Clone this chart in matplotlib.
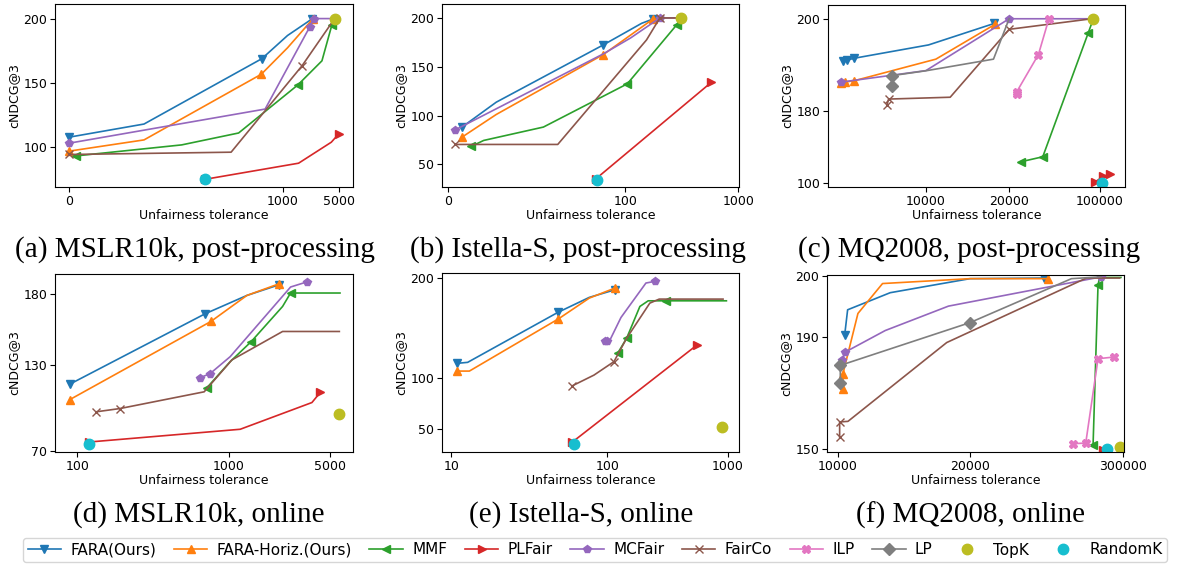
import numpy as np
import matplotlib
matplotlib.use("Agg")
import matplotlib.pyplot as plt

# ---- data ---------------------------------------------------------------
methods = ["FARA(Ours)", "FARA-Horiz.(Ours)", "MMF", "PLFair", "MCFair",
           "FairCo", "ILP", "LP", "TopK", "RandomK"]

# (a) MSLR10k, post-processing
mslr_post = {
    "FARA(Ours)": ([0, 351, 902, 1335, 3084], [107.3, 117.6, 168.7, 186.8, 199.7]),
    "FARA-Horiz.(Ours)": ([0, 351, 899, 1335, 3130], [96.4, 105.2, 156.5, 177.2, 199.5]),
    "MMF": ([33, 527, 793, 2078, 3802, 4521, 4713], [92.7, 101.3, 110.6, 148.2, 167, 195.3, 200]),
    "PLFair": ([636, 2126, 4473, 5000], [74.4, 87.0, 103.4, 109.8]),
    "MCFair": ([0, 917, 2916, 3203, 4713], [102.6, 129.3, 193.3, 200, 200]),
    "FairCo": ([0, 758, 2365, 4713], [93.8, 95.6, 163, 200]),
    "TopK": ([4713], [200]),
    "RandomK": ([636], [74.4]),
}
# (b) Istella-S, post-processing
istella_post = {
    "FARA(Ours)": ([7.9, 27.2, 87.6, 230, 322], [88.2, 113.7, 172.4, 194.5, 199.0]),
    "FARA-Horiz.(Ours)": ([7.9, 27.2, 87.6, 322], [77.9, 101.1, 162.5, 199.0]),
    "MMF": ([13.1, 20.1, 53.8, 116, 508, 542], [68.4, 74.5, 88.2, 132.5, 192.8, 200]),
    "PLFair": ([83.5, 786], [35.3, 134.2]),
    "MCFair": ([4.1, 87.6, 142, 375, 542], [85.4, 163.2, 179.5, 200, 200]),
    "FairCo": ([4.1, 61.9, 269, 375, 542], [70.4, 70.4, 177.5, 200, 200]),
    "TopK": ([542], [200]),
    "RandomK": ([84.2], [34.3]),
}
# (c) MQ2008, post-processing
mq_post = {
    "FARA(Ours)": ([350, 778, 1634, 10320, 18240], [190.8, 191.0, 191.4, 194.3, 199.0]),
    "FARA-Horiz.(Ours)": ([117, 505, 1634, 11200, 18320], [186.1, 186.2, 186.5, 191.2, 198.8]),
    "MMF": ([30260, 49600, 89750, 94140], [123.7, 129.2, 197.0, 200]),
    "PLFair": ([95600, 102930, 108790], [101.5, 107.7, 110.2]),
    "MCFair": ([117, 10000, 20000, 92700], [186.2, 188.7, 200, 200]),
    "FairCo": ([5447, 5642, 12920, 20000, 92700], [181.2, 182.5, 182.9, 197.7, 200]),
    "ILP": ([26740, 26740, 45780, 55000], [183.6, 184.1, 192.2, 200]),
    "LP": ([6030, 6030, 10120, 18120, 20000], [185.4, 187.6, 188.7, 191.2, 200]),
    "TopK": ([93550], [200]),
    "RandomK": ([101470], [100.4]),
}
# (d) MSLR10k, online
mslr_online = {
    "FARA(Ours)": ([56, 861, 1721, 2993], [116.8, 166.0, 178.8, 186.3]),
    "FARA-Horiz.(Ours)": ([56, 895, 1721, 2993], [106.0, 160.6, 178.8, 187.0]),
    "MMF": ([871, 1066, 1891, 3124, 3438, 5380], [114.2, 132.5, 146.5, 171.1, 180.5, 180.5]),
    "PLFair": ([172, 1459, 4277, 4605], [76.3, 85.2, 103.9, 111.0]),
    "MCFair": ([831, 890, 1066, 3438, 4068], [121.3, 124.1, 136.0, 184.7, 188.2]),
    "FairCo": ([211, 354, 855, 1131, 3124, 5354], [97.4, 99.7, 111.4, 133.7, 153.6, 153.6]),
    "TopK": ([5328], [96.2]),
    "RandomK": ([172], [75.2]),
}
# (e) Istella-S, online
istella_online = {
    "FARA(Ours)": ([13.3, 19.4, 71.4, 89.6, 157], [115, 116, 165.7, 180.7, 188.3]),
    "FARA-Horiz.(Ours)": ([13.3, 20.4, 71.8, 89.6, 157], [107.3, 107.3, 159.3, 180, 190]),
    "MMF": ([177, 244, 343, 405, 537, 988], [125, 140, 171.7, 177.3, 177.3, 177.3]),
    "PLFair": ([79.9, 769], [36.7, 133.3]),
    "MCFair": ([98.5, 101, 120, 202, 388, 455], [137.7, 137.7, 138.3, 160.7, 195, 196.7]),
    "FairCo": ([79.9, 92.3, 149.6, 244, 417, 487, 963], [92.7, 103.3, 116.7, 140, 175, 179, 179]),
    "TopK": ([955], [51.7]),
    "RandomK": ([81], [35]),
}
# (f) MQ2008, online
mq_online = {
    "FARA(Ours)": ([10528, 10754, 13970, 20000, 155700], [190.3, 194.5, 197.3, 199.6, 199.7]),
    "FARA-Horiz.(Ours)": ([10402, 10402, 11533, 13392, 20000, 163000], [171.6, 176.9, 193.9, 198.8, 199.6, 199.6]),
    "MMF": ([245200, 254300, 257300, 296200], [151.2, 198.6, 199.8, 199.8]),
    "PLFair": ([263500, 272600], [149.6, 149.9]),
    "MCFair": ([10352, 10578, 13594, 18370, 260400], [181.7, 184.7, 191.1, 195.1, 199.9]),
    "FairCo": ([10151, 10151, 10779, 18240, 233000, 293900], [154.2, 159.6, 159.8, 188.1, 199.7, 199.7]),
    "ILP": ([208700, 231800, 254300, 283500], [151.8, 152.0, 182.3, 182.9]),
    "LP": ([10201, 10201, 10452, 20000, 205700, 260400], [173.5, 179.9, 180.3, 192.4, 199.6, 199.9]),
    "TopK": ([295000], [150.6]),
    "RandomK": ([270000], [150.0]),
}

xticks = [[0, 1000, 5000], [0, 100, 1000], [10000, 20000, 100000],
          [100, 1000, 5000], [10, 100, 1000], [10000, 20000, 300000]]
yticks = [[100, 150, 200], [50, 100, 150, 200], [100, 180, 200],
          [70, 130, 180], [50, 100, 200], [150, 190, 200]]
captions = ["(a) MSLR10k, post-processing", "(b) Istella-S, post-processing",
            "(c) MQ2008, post-processing", "(d) MSLR10k, online",
            "(e) Istella-S, online", "(f) MQ2008, online"]
panels = [mslr_post, istella_post, mq_post, mslr_online, istella_online, mq_online]

# which points of each line carry a marker
mark_idx = [
    {"FARA(Ours)": [0, 2, 4], "FARA-Horiz.(Ours)": [0, 2, 4], "MMF": [0, 3, 5],
     "PLFair": [0, 3], "MCFair": [0, 2, 3], "FairCo": [0, 2]},
    {"FARA(Ours)": [0, 2, 4], "FARA-Horiz.(Ours)": [0, 2, 3], "MMF": [0, 3, 4],
     "PLFair": [0, 1], "MCFair": [0, 3], "FairCo": [0, 3]},
    {"FARA(Ours)": [0, 1, 2, 4], "FARA-Horiz.(Ours)": [0, 1, 2, 4], "MMF": [0, 1, 2],
     "PLFair": [0, 1, 2], "MCFair": [0, 2], "FairCo": [0, 1, 3], "ILP": [0, 1, 2, 3],
     "LP": [0, 1]},
    {"FARA(Ours)": [0, 1, 3], "FARA-Horiz.(Ours)": [0, 1, 3], "MMF": [0, 2, 4],
     "PLFair": [0, 3], "MCFair": [0, 1, 4], "FairCo": [0, 1]},
    {"FARA(Ours)": [0, 2, 4], "FARA-Horiz.(Ours)": [0, 2, 4], "MMF": [0, 1, 4],
     "PLFair": [0, 1], "MCFair": [0, 1, 5], "FairCo": [0, 2]},
    {"FARA(Ours)": [0, 4], "FARA-Horiz.(Ours)": [0, 1, 5], "MMF": [0, 1],
     "PLFair": [0, 1], "MCFair": [0, 1, 4], "FairCo": [0, 1], "ILP": [0, 1, 2, 3],
     "LP": [0, 1, 3]},
]

# ---- layout / style ------------------------------------------------------
W, H = 1178, 565
colors = ["#1f77b4", "#ff7f0e", "#2ca02c", "#d62728", "#9467bd",
          "#8c564b", "#e377c2", "#7f7f7f", "#bcbd22", "#17becf"]
markers = ["v", "^", "<", ">", "p", "x", "X", "D", "o", "o"]

# axes boxes in pixels: left, right, top, bottom
boxes = [(55, 353, 4, 187), (442, 739, 4, 187), (828, 1125, 5, 187),
         (55, 353, 274, 452), (442, 739, 273, 452), (827, 1124, 275, 452)]
# the axes are squashed piecewise: tick value -> relative position
x_knots = [([0, 1000, 5000], [207, 848, 1015]),
           ([0, 100, 1000], [173, 706, 1046]),
           ([0, 10000, 20000, 100000], [180, 437, 687, 960]),
           ([100, 1000, 5000], [232, 685, 990]),
           ([10, 100, 1000], [183, 652, 1015]),
           ([10000, 20000, 300000], [172, 570, 1030])]
y_knots = [None, None, ([100, 180, 200], [-551, -332, -56]),
           None, None, ([150, 190, 200], [-550, -216, -33])]
xlims = [(-65, 6030), (-3.4, 1005), (-1440, 121980), (-33, 5891), (4.6, 1082), (9196, 301830)]
ylims = [(68.4, 211.4), (26.8, 214.3), (96, 203), (69.3, 193.8), (26.7, 205), (148.8, 200.2)]
cap_pos = [(195, 250), (578, 250), (969, 250), (199, 515), (581, 515), (970, 515)]


def piecewise(v, a, b):
    v = np.asarray(v, float)
    out = np.interp(v, a, b)
    lo = (b[1] - b[0]) / (a[1] - a[0])
    hi = (b[-1] - b[-2]) / (a[-1] - a[-2])
    out = np.where(v < a[0], b[0] + (v - a[0]) * lo, out)
    out = np.where(v > a[-1], b[-1] + (v - a[-1]) * hi, out)
    return out


def make_funcs(knots):
    a = np.asarray(knots[0], float)
    b = np.asarray(knots[1], float)
    return (lambda v: piecewise(v, a, b)), (lambda p: piecewise(p, b, a))


fig = plt.figure(figsize=(W / 100, H / 100), dpi=100)
handles = {}

for i, data in enumerate(panels):
    l, r, t, b = boxes[i]
    ax = fig.add_axes([l / W, 1 - b / H, (r - l) / W, (b - t) / H])
    ax.set_xscale("function", functions=make_funcs(x_knots[i]))
    if y_knots[i] is not None:
        ax.set_yscale("function", functions=make_funcs(y_knots[i]))

    for m, name in enumerate(methods):
        if name not in data:
            continue
        xs, ys = data[name]
        if name in ("TopK", "RandomK"):
            h, = ax.plot(xs, ys, linestyle="none", marker=markers[m],
                         color=colors[m], markersize=7.5, label=name)
        else:
            h, = ax.plot(xs, ys, color=colors[m], marker=markers[m],
                         markevery=mark_idx[i][name], markersize=6,
                         linewidth=1.2, label=name)
        handles[name] = h

    ax.set_xlim(*xlims[i])
    ax.set_ylim(*ylims[i])
    ax.set_xticks(xticks[i])
    ax.set_xticklabels([str(v) for v in xticks[i]])
    ax.set_yticks(yticks[i])
    ax.set_yticklabels([str(v) for v in yticks[i]])
    ax.minorticks_off()
    ax.tick_params(labelsize=9, length=3.5, pad=2)
    ax.set_xlabel("Unfairness tolerance", fontsize=9, labelpad=1)
    ax.set_ylabel("cNDCG@3", fontsize=9, labelpad=2)

    cx, cy = cap_pos[i]
    fig.text(cx / W, 1 - cy / H, captions[i], ha="center", va="center",
             fontsize=21, family="Liberation Serif")

fig.legend([handles[n] for n in methods], methods, loc="center",
           bbox_to_anchor=(595 / W, 1 - 550 / H), ncol=10, fontsize=11,
           frameon=True, handlelength=2.2, columnspacing=1.15,
           handletextpad=0.6, borderpad=0.3, fancybox=True)

fig.savefig("out.png", dpi=100)
